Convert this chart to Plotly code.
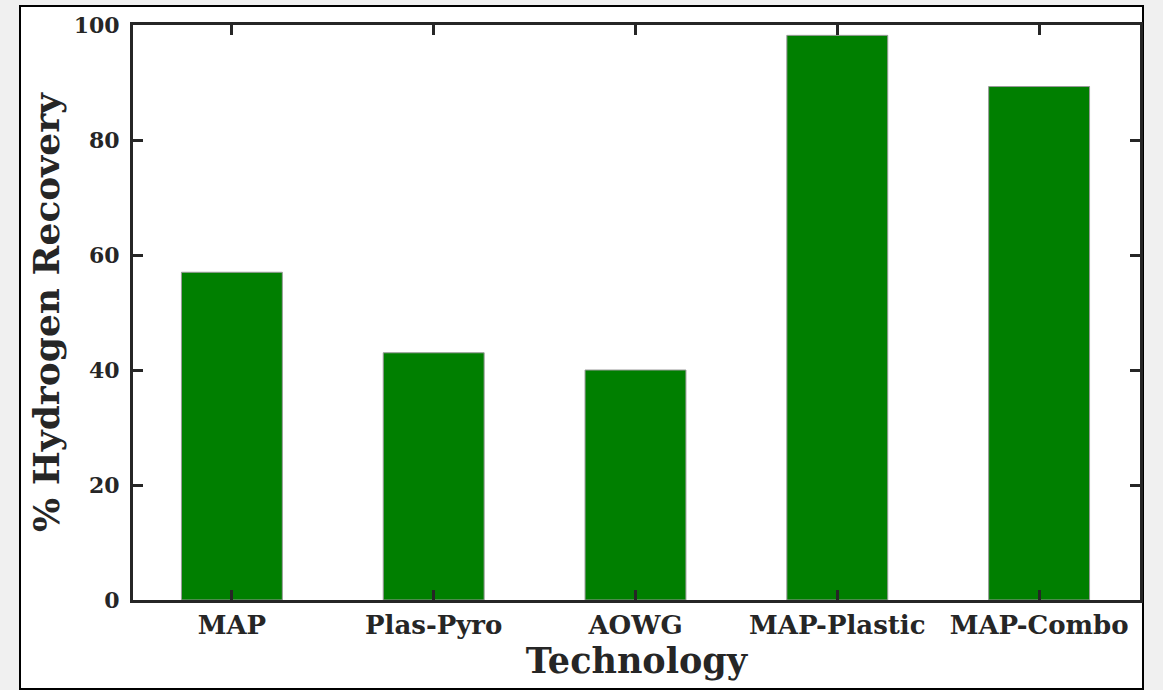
import plotly.graph_objects as go

categories = ["MAP", "Plas-Pyro", "AOWG", "MAP-Plastic", "MAP-Combo"]
recovery = [57.0, 43.0, 40.0, 98.2, 89.3]
y_ticks = [0, 20, 40, 60, 80, 100]

FONT = "DejaVu Serif"
INK = "#262626"

fig = go.Figure()
fig.add_trace(go.Bar(
    x=categories, y=recovery, width=0.5,
    marker=dict(color="#007f00", line=dict(color="#9a9a9a", width=1)),
))

L, R, T, B = 133, 23, 25, 90
W, H = 1163, 690
pw, ph = W - L - R, H - T - B

def px_x(p):
    return (p - L) / pw

def px_y(p):
    return (H - B - p) / ph

fig.add_shape(type="rect", xref="paper", yref="paper",
              x0=px_x(20), x1=px_x(1143), y0=px_y(689), y1=px_y(6),
              fillcolor="white", line=dict(color="black", width=2), layer="below")

fig.update_layout(
    width=W, height=H,
    margin=dict(l=L, r=R, t=T, b=B),
    paper_bgcolor="#f0f0f0", plot_bgcolor="white",
    showlegend=False,
    font=dict(family=FONT, color=INK),
    xaxis=dict(
        type="category", range=[-0.49, 4.5],
        showline=True, linecolor=INK, linewidth=3, mirror="ticks",
        ticks="inside", ticklen=10, tickwidth=3, tickcolor=INK,
        showgrid=False, zeroline=False,
        tickfont=dict(family=FONT, size=26, color=INK, weight="bold"),
        ticklabelstandoff=0,
        title=dict(text="<b>Technology</b>", font=dict(family=FONT, size=35, color=INK), standoff=4),
    ),
    yaxis=dict(
        range=[0, 100], tickvals=y_ticks,
        showline=True, linecolor=INK, linewidth=3, mirror="ticks",
        ticks="inside", ticklen=10, tickwidth=3, tickcolor=INK,
        showgrid=False, zeroline=False,
        tickfont=dict(family=FONT, size=22, color=INK, weight="bold"),
        ticklabelstandoff=6,
        title=dict(text="<b>% Hydrogen Recovery</b>", font=dict(family=FONT, size=36, color=INK), standoff=4),
    ),
)

fig.write_html("out.html", config={"displayModeBar": False},
               post_script="document.body.style.margin='0';")
